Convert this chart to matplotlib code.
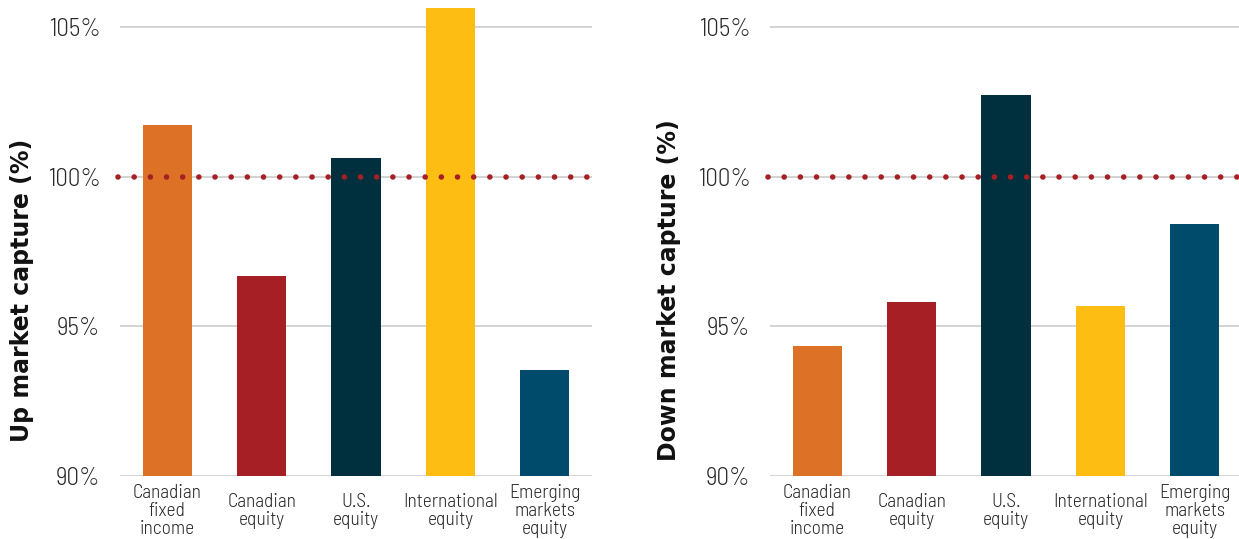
import matplotlib.pyplot as plt

# DATA
categories = ["Canadian\nfixed\nincome", "Canadian\nequity", "U.S.\nequity",
              "International\nequity", "Emerging\nmarkets\nequity"]
up_capture = [101.73, 96.67, 100.63, 105.63, 93.53]
down_capture = [94.33, 95.80, 102.73, 95.67, 98.43]
y_ticks = [90, 95, 100, 105]
y_tick_labels = ["90%", "95%", "100%", "105%"]
colors = ["#DD7226", "#A51F24", "#002F3D", "#FDBD12", "#004B6B"]

light_fonts = ['Barlow Semi Condensed', 'Liberation Sans Narrow', 'DejaVu Sans']
bold_fonts = ['DejaVu Sans']

fig = plt.figure(figsize=(12.39, 5.39), dpi=100)
ax1 = fig.add_axes([120 / 1239, 1 - 476 / 539, 472 / 1239, 476 / 539])
ax2 = fig.add_axes([770 / 1239, 1 - 476 / 539, 472 / 1239, 476 / 539])


def draw_panel(ax, values, ylabel, label_x):
    x = range(len(categories))
    ax.bar(x, [v - 90 for v in values], bottom=90, width=0.52, color=colors, zorder=3)
    ax.set_ylim(90, 105.9)
    ax.set_xlim(-0.5, 4.5)
    ax.set_yticks(y_ticks)
    ax.set_yticklabels(y_tick_labels, fontsize=18, color="#2a2a2a",
                       family=light_fonts, fontweight=300)
    ax.set_xticks(list(x))
    ax.set_xticklabels(categories, fontsize=14, color="#2a2a2a", linespacing=1.0,
                       family=light_fonts, fontweight=300)
    for lab in ax.get_xticklabels():
        lab.set_va('center')
    ax.tick_params(axis='both', length=0)
    ax.tick_params(axis='y', pad=14)
    ax.tick_params(axis='x', pad=25.5)
    ax.grid(axis='y', color="#d0d0d0", linewidth=1.3, zorder=0)
    for s in ax.spines.values():
        s.set_visible(False)
    ax.plot([-0.52, 4.52], [100, 100], color="#A51F24", linewidth=4,
            linestyle=(0, (0.01, 2.9)), dash_capstyle='round', zorder=4, clip_on=False)
    ax.set_ylabel(ylabel, fontsize=17, fontweight='bold', family=bold_fonts,
                  color="#111111")
    ax.yaxis.set_label_coords(label_x, 0.39)


draw_panel(ax1, up_capture, "Up market capture (%)", -0.182)
draw_panel(ax2, down_capture, "Down market capture (%)", -0.189)

fig.savefig("out.png", dpi=100)
